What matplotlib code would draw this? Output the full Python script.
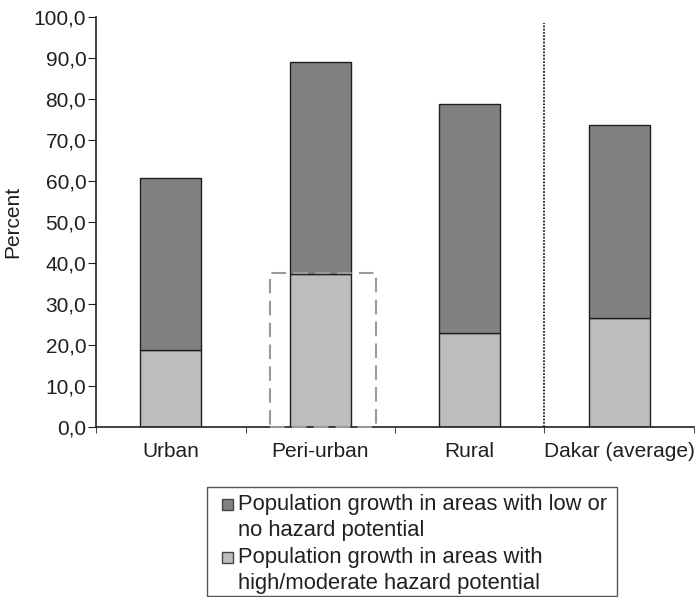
import matplotlib.pyplot as plt
from matplotlib.patches import Rectangle
from matplotlib.ticker import FuncFormatter
import numpy as np

plt.rcParams['font.family'] = ['Liberation Sans', 'DejaVu Sans']

categories = ['Urban', 'Peri-urban', 'Rural', 'Dakar (average)']
high_hazard = [18.7, 37.2, 22.8, 26.6]
low_hazard = [42.0, 51.8, 55.8, 47.0]
legend_lines = [['Population growth in areas with low or', 'no hazard potential'],
                ['Population growth in areas with', 'high/moderate hazard potential']]

ink = '#231f20'
dark = '#808182'
light = '#bcbdbf'
W, H = 696, 597


def fx(px):
    return px / W


def fy(py):
    return 1 - py / H


fig = plt.figure(figsize=(6.96, 5.97), dpi=100)
ax = fig.add_axes([0.138, 0.285, 0.859, 0.687])

x = np.arange(len(categories))
b_light = ax.bar(x, high_hazard, width=0.41, color=light, edgecolor=ink, linewidth=1)
b_dark = ax.bar(x, low_hazard, bottom=high_hazard, width=0.41, color=dark,
                edgecolor=ink, linewidth=1)

# highlight box around peri-urban hazard share
ax.add_patch(Rectangle((0.662, 0), 0.709, 37.6, fill=False, edgecolor='#9a9a9a',
                       linewidth=1.5, linestyle=(0, (7, 3.5)), clip_on=False, zorder=3))

# separator before the average
ax.plot([2.5, 2.5], [0, 98.5], color=ink, linestyle=(0, (1, 0.8)), linewidth=1.3)

ax.set_xlim(-0.5, 3.5)
ax.set_ylim(0, 100)
ax.set_yticks(np.arange(0, 101, 10))
ax.yaxis.set_major_formatter(FuncFormatter(lambda v, p: f'{v:.1f}'.replace('.', ',')))
ax.set_xticks(x)
ax.set_xticklabels(categories)
ax.set_xticks(np.arange(-0.5, 3.6, 1), minor=True)
ax.tick_params(axis='x', which='major', length=0, pad=11, labelsize=15, labelcolor=ink)
ax.tick_params(axis='x', which='minor', length=4, direction='out', color=ink)
ax.tick_params(axis='y', length=6, direction='out', color=ink, labelsize=15,
               labelcolor=ink, pad=1)
ax.set_ylabel('Percent', fontsize=15, color=ink, labelpad=8)

for s in ['top', 'right']:
    ax.spines[s].set_visible(False)
for s in ['left', 'bottom']:
    ax.spines[s].set_color(ink)
    ax.spines[s].set_linewidth(1.2)

# legend, drawn by hand so the swatch sits on the first line of each entry
fig.add_artist(Rectangle((fx(207), fy(596)), fx(617) - fx(207), fy(487) - fy(596),
                         transform=fig.transFigure, fill=False, edgecolor='#555555',
                         linewidth=1))
baselines = [[510, 536], [563, 589]]
for colour, lines, bl in zip([dark, light], legend_lines, baselines):
    fig.add_artist(Rectangle((fx(222), fy(bl[0])), fx(11), fy(0) - fy(11),
                             transform=fig.transFigure, facecolor=colour,
                             edgecolor='#444444', linewidth=1))
    for line, b in zip(lines, bl):
        fig.text(fx(238), fy(b), line, fontsize=15.8, color=ink, va='baseline')

fig.savefig('out.png', dpi=100)
